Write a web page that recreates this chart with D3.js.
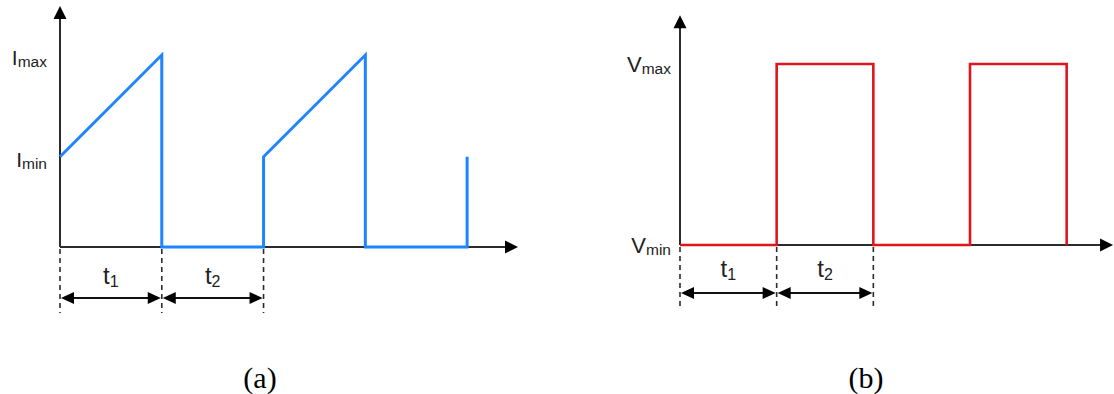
<!DOCTYPE html>
<html>
<head>
<meta charset="utf-8">
<script src="https://cdn.jsdelivr.net/npm/d3@7/dist/d3.min.js"></script>
<style>
  html, body { margin: 0; padding: 0; background: #fff; }
  svg { display: block; }
</style>
</head>
<body>
<svg id="chart" width="1114" height="394"></svg>
<script>
// Time in units of one interval (t1 = t2 = 1)
const waveTime = [0, 1, 1, 2, 2, 3, 3, 4, 4];
// Inductor current, normalised to Imax
const currentValue = [0.47, 1, 0, 0, 0.47, 1, 0, 0, 0.47];
// Switch voltage, normalised to Vmax
const voltageValue = [0, 0, 1, 1, 0, 0, 1, 1, 0];
// Level labels on the vertical axes
const currentLevelSubs = ["max", "min"];
const currentLevels = [1, 0.47];
const voltageLevelSubs = ["max", "min"];
const voltageLevels = [1, 0];
// Interval markers below the time axis
const intervalBounds = [0, 1, 2];
const intervalSubs = ["1", "2"];
const captions = ["(a)", "(b)"];

const svg = d3.select("#chart");
const axisColor = "#2b2b2b";
const sans = "'Liberation Sans', Arial, sans-serif";

function drawPanel(cfg) {
  const g = svg.append("g");
  const x = d3.scaleLinear().domain([0, 4.5]).range(cfg.xRange);
  const y = d3.scaleLinear().domain([0, 1]).range(cfg.yRange);
  const x0 = x(0), y0 = y(0);
  const yTop = y(cfg.yMax), xEnd = x(cfg.xMax);

  // axes
  g.append("line").attr("x1", x0).attr("y1", y0).attr("x2", x0).attr("y2", yTop + 8)
    .attr("stroke", axisColor).attr("stroke-width", 2);
  g.append("path").attr("d", `M${x0},${yTop} L${x0 - 6.5},${yTop + 13} L${x0 + 6.5},${yTop + 13} Z`)
    .attr("fill", "#000");
  g.append("line").attr("x1", x0).attr("y1", y0).attr("x2", xEnd - 8).attr("y2", y0)
    .attr("stroke", axisColor).attr("stroke-width", 2);
  g.append("path").attr("d", `M${xEnd},${y0} L${xEnd - 13},${y0 - 6.5} L${xEnd - 13},${y0 + 6.5} Z`)
    .attr("fill", "#000");

  // waveform
  const pts = waveTime.map((t, i) => [t, cfg.values[i]]);
  const line = d3.line().x(d => x(d[0])).y(d => y(d[1]));
  g.append("path").datum(pts).attr("d", line)
    .attr("fill", "none").attr("stroke", cfg.color)
    .attr("stroke-width", cfg.width).attr("stroke-linejoin", "miter");

  // level labels
  cfg.levels.forEach((v, i) => {
    const t = g.append("text")
      .attr("x", cfg.labelX).attr("y", y(v) + cfg.labelDy)
      .attr("text-anchor", "end")
      .attr("font-family", sans).attr("fill", "#222");
    t.append("tspan").attr("font-size", cfg.baseSize).text(cfg.base);
    t.append("tspan").attr("font-size", 15.5).attr("dy", 2).text(cfg.subs[i]);
  });

  // interval markers
  const rowY = cfg.rowY;
  intervalBounds.forEach(b => {
    g.append("line").attr("x1", x(b)).attr("x2", x(b))
      .attr("y1", y0 + 2).attr("y2", cfg.dashEnd)
      .attr("stroke", axisColor).attr("stroke-width", 1.6)
      .attr("stroke-dasharray", "5,4");
  });
  intervalSubs.forEach((s, i) => {
    const a = x(intervalBounds[i]), b = x(intervalBounds[i + 1]);
    g.append("line").attr("x1", a + 10).attr("x2", b - 10)
      .attr("y1", rowY).attr("y2", rowY)
      .attr("stroke", "#111").attr("stroke-width", 2);
    g.append("path").attr("d", `M${a + 1},${rowY} L${a + 14},${rowY - 6} L${a + 14},${rowY + 6} Z`).attr("fill", "#000");
    g.append("path").attr("d", `M${b - 1},${rowY} L${b - 14},${rowY - 6} L${b - 14},${rowY + 6} Z`).attr("fill", "#000");
    const t = g.append("text")
      .attr("x", (a + b) / 2).attr("y", cfg.tY)
      .attr("text-anchor", "middle")
      .attr("font-family", sans).attr("fill", "#222");
    t.append("tspan").attr("font-size", 24).text("t");
    t.append("tspan").attr("font-size", 16).attr("dy", 3).text(s);
  });

  // caption
  svg.append("text").attr("x", cfg.captionX).attr("y", 388)
    .attr("text-anchor", "middle")
    .attr("font-family", "'Liberation Serif', 'Times New Roman', serif")
    .attr("font-size", 30).attr("fill", "#000")
    .text(cfg.caption);
}

drawPanel({
  xRange: [60, 518.0], yRange: [247, 55], yMax: 1.255, xMax: 4.5,
  values: currentValue, color: "#1f84ff", width: 3,
  base: "I", baseSize: 21, subs: currentLevelSubs, levels: currentLevels,
  labelX: 47, labelDy: 10,
  rowY: 298, dashEnd: 313, tY: 284,
  caption: captions[0], captionX: 260
});

drawPanel({
  xRange: [680, 1115], yRange: [245, 64], yMax: 1.27, xMax: 4.48,
  values: voltageValue, color: "#e0161e", width: 2.6,
  base: "V", baseSize: 22, subs: voltageLevelSubs, levels: voltageLevels,
  labelX: 671, labelDy: 8,
  rowY: 293, dashEnd: 307, tY: 277,
  caption: captions[1], captionX: 866
});
</script>
</body>
</html>
